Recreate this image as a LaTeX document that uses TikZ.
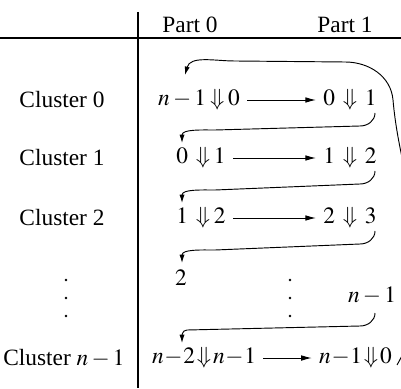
\documentclass[tikz,border=0pt]{standalone}
\usepackage{mathptmx}
\usepackage{fontspec}
\setmainfont{Liberation Serif}
\usepackage{tikz}
\usetikzlibrary{arrows.meta, calc}

\begin{document}
\medmuskip=2.5mu
\thickmuskip=3mu
\begin{tikzpicture}[x=0.428pt, y=0.428pt,
    cell/.style={inner sep=2pt},
    tight/.style={cell, execute at begin node={\medmuskip=0.5mu\thickmuskip=1.5mu}},
    flow/.style={-{Latex[length=4.5pt, width=2.4pt]}, shorten <=1pt, shorten >=1pt},
    hook/.style={-{Latex[length=3.6pt, width=2.2pt]}}]
    \useasboundingbox (0,0) rectangle (401,388);
    \clip (0,0) rectangle (401,388);

    % Table rules
    \draw[line width=0.6pt] (138,376) -- (138,0);
    \draw[line width=0.6pt] (0,350) -- (401,350);

    % Column heads
    \node (p0) at (190,363) {Part 0};
    \node (p1) at (345,363) {Part 1};

    % Row heads
    \node (c0) at (62,288) {Cluster 0};
    \node (c1) at (62,230) {Cluster 1};
    \node (c2) at (62,170) {Cluster 2};
    \node (c4) at (64,30) {Cluster $n-1$};
    \foreach \y in {108, 90, 72} \fill (66,\y) circle (1.3);

    % Part 0 entries
    \node[cell] (a0) at (199,288) {$n-1 \Downarrow 0$};
    \node[cell] (a1) at (201,230) {$0 \;\Downarrow 1$};
    \node[cell] (a2) at (201,170) {$1 \;\Downarrow 2$};
    \node[cell] (a3) at (181,110) {$2$};
    \node[tight, anchor=west] (a4) at (147,30) {$n-2 \Downarrow n-1$};

    % Part 1 entries
    \node[cell] (b0) at (350,288) {$0 \;\Downarrow\; 1$};
    \node[cell] (b1) at (350,230) {$1 \;\Downarrow\; 2$};
    \node[cell] (b2) at (350,170) {$2 \;\Downarrow\; 3$};
    \node[cell] (b3) at (372,92) {$n-1$};
    \node[tight, anchor=east] (b4) at (397,30) {$n-1 \Downarrow 0$};
    \foreach \y in {108, 90, 72} \fill (290,\y) circle (1.3);

    % Moves inside a cluster
    \draw[flow] (a0) -- (b0);
    \draw[flow] (a1) -- (b1);
    \draw[flow] (a2) -- (b2);
    \draw[flow] (a4) -- (b4);

    % Hand-over to the next cluster
    \draw[hook] ($(b0)+(25,-13)$) to[out=-90, in=0] ++(-15,-13)
        -- ($(a1)+(14,28)$) to[out=180, in=90] ($(a1)+(-19,15)$);
    \draw[hook] ($(b1)+(25,-13)$) to[out=-90, in=0] ++(-15,-13)
        -- ($(a2)+(14,28)$) to[out=180, in=90] ($(a2)+(-19,15)$);
    \draw[hook] ($(b2)+(25,-13)$) to[out=-90, in=0] ++(-15,-13)
        -- ($(a3)+(34,28)$) to[out=180, in=90] ($(a3)+(1,15)$);
    \draw[hook] ($(b3)+(3,-17)$) to[out=-90, in=0] ++(-15,-13)
        -- ($(a4.west)+(40,28)$) to[out=180, in=90] ($(a4.west)+(35,15)$);

    % Wrap-around back to cluster 0
    \draw[hook] ($(b4.east)+(0,-7)$) to[out=60, in=-90] (412,150)
        to[out=90, in=-85] (393,288) to[out=95, in=0] (345,326)
        -- (235,327) to[out=180, in=75] ($(a0)+(-14,25)$);
\end{tikzpicture}
\end{document}
